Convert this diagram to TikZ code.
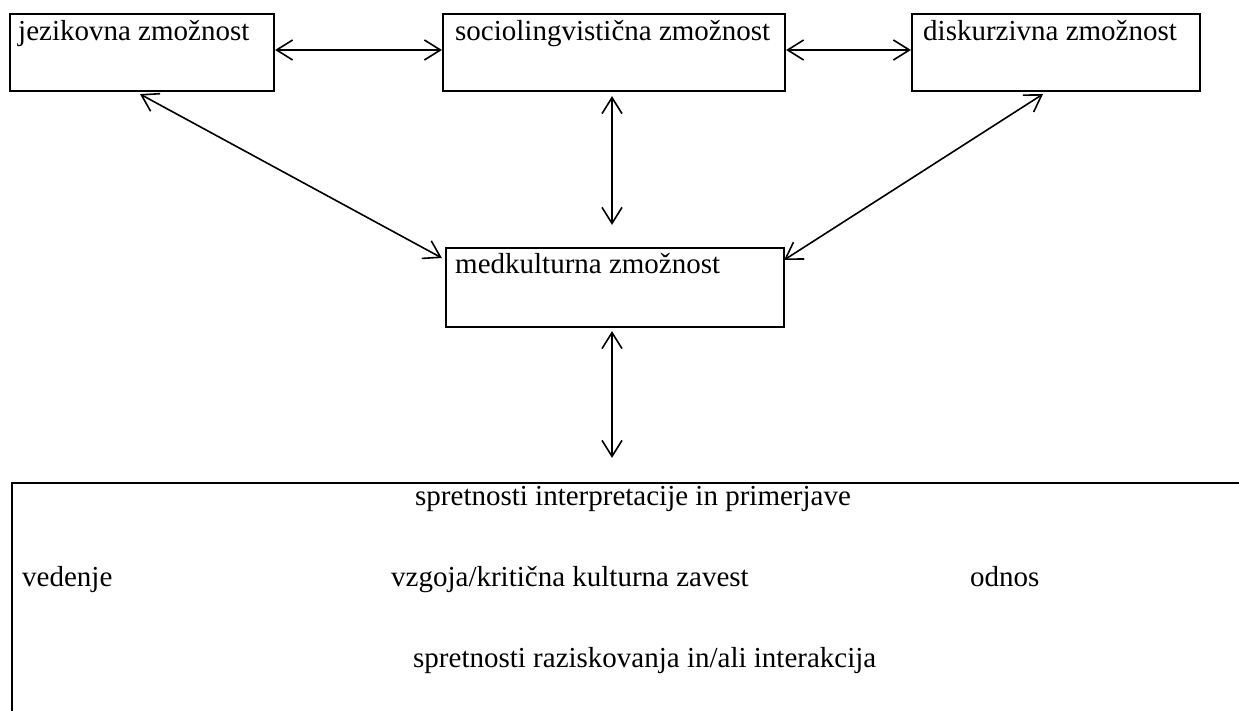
\documentclass[tikz,border=0pt]{standalone}
\usepackage{fontspec}
\setmainfont{Liberation Serif}
\usetikzlibrary{arrows.meta,calc}
\begin{document}
\begin{tikzpicture}[x=1pt,y=-1pt,
  box/.style={draw, line width=2.2pt, inner sep=0pt},
  txt/.style={font=\fontsize{29}{34}\selectfont, inner sep=0pt, anchor=base west},
  arr/.style={line width=1.6pt, {Straight Barb[length=16pt,width=20pt]}-{Straight Barb[length=16pt,width=20pt]}}]
\useasboundingbox[fill=white] (0,0) rectangle (1239,711);
\clip (0,0) rectangle (1239,711);
% boxes
\node[box, minimum width=264pt, minimum height=77pt] (b1) at (142,52.5) {};
\node[box, minimum width=342pt, minimum height=77pt] (b2) at (614,52.5) {};
\node[box, minimum width=288pt, minimum height=77pt] (b3) at (1056,52.5) {};
\node[box, minimum width=338pt, minimum height=79pt] (b4) at (615,287.5) {};
\node[box, minimum width=1288pt, minimum height=277pt] (b5) at (656,621.5) {};
% texts
\node[txt] (t1) at (18,41) {jezikovna zmožnost};
\node[txt] (t2) at (455,41) {sociolingvistična zmožnost};
\node[txt] (t3) at (923,41) {diskurzivna zmožnost};
\node[txt] (t4) at (455,274) {medkulturna zmožnost};
\node[txt] (t5) at (415,505) {spretnosti interpretacije in primerjave};
\node[txt] (t6) at (22,586) {vedenje};
\node[txt] (t7) at (391,586) {vzgoja/kritična kulturna zavest};
\node[txt] (t8) at (970,586) {odnos};
\node[txt] (t9) at (413,667) {spretnosti raziskovanja in/ali interakcija};
% connectors
\draw[arr] ([yshift=2.5pt]b1.east) -- ([yshift=2.5pt]b2.west);
\draw[arr] ([yshift=2.5pt]b2.east) -- ([yshift=2.5pt]b3.west);
\draw[arr] ($(b1.south)+(-2,2)$) -- ($(b4.west)+(-3,-29.5)$);
\draw[arr] ($(b2.south)+(-2,4)$) -- ($(b4.north)+(-3,-22)$);
\draw[arr] ($(b3.south)+(-13,2)$) -- ($(b4.east)+(-1,-27.5)$);
\draw[arr] ($(b4.south)+(-3,3)$) -- ($(b4.south |- b5.north)+(-3,-24)$);
\end{tikzpicture}
\end{document}
